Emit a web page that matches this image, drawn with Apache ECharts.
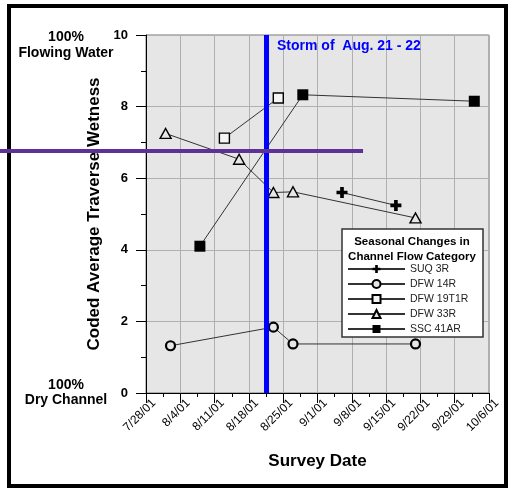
<!DOCTYPE html>
<html>
<head>
<meta charset="utf-8">
<script src="https://cdn.jsdelivr.net/npm/echarts@6/dist/echarts.min.js"></script>
<style>
  html, body { margin: 0; padding: 0; background: #fff; }
  #chart { width: 514px; height: 489px; }
</style>
</head>
<body>
<div id="chart"></div>
<script>
// Survey dates (day 0 = 7/28/01) and coded wetness values for each channel reach
const startDate = '2001-07-28';
const tickLabels = ['7/28/01', '8/4/01', '8/11/01', '8/18/01', '8/25/01', '9/1/01',
                    '9/8/01', '9/15/01', '9/22/01', '9/29/01', '10/6/01'];

const suq3rDates = ['2001-09-06', '2001-09-17'];
const suq3rValues = [5.6, 5.24];

const dfw14rDates = ['2001-08-02', '2001-08-23', '2001-08-27', '2001-09-21'];
const dfw14rValues = [1.32, 1.84, 1.37, 1.37];

const dfw19t1rDates = ['2001-08-13', '2001-08-24'];
const dfw19t1rValues = [7.12, 8.24];

const dfw33rDates = ['2001-08-01', '2001-08-16', '2001-08-23', '2001-08-27', '2001-09-21'];
const dfw33rValues = [7.25, 6.53, 5.6, 5.62, 4.89];

const ssc41arDates = ['2001-08-08', '2001-08-29', '2001-10-03'];
const ssc41arValues = [4.1, 8.33, 8.15];

// Storm of Aug. 21 - 22 (drawn midway through the storm)
const stormDay = '2001-08-21';
const stormOffset = 0.5;

const FONT = '"Liberation Sans", Arial, sans-serif';

function dayOf(iso) {
  const [y, m, d] = iso.split('-').map(Number);
  const [y0, m0, d0] = startDate.split('-').map(Number);
  return (Date.UTC(y, m - 1, d) - Date.UTC(y0, m0 - 1, d0)) / 86400000;
}
function pairs(dates, values) {
  return dates.map((d, i) => [dayOf(d), values[i]]);
}

const lineStyle = { color: '#333', width: 1 };
const plusPath = 'path://M-1,-3H1V-1H3V1H1V3H-1V1H-3V-1H-1Z';

const chart = echarts.init(document.getElementById('chart'));

chart.setOption({
  animation: false,
  textStyle: { fontFamily: FONT },
  grid: {
    left: 146, top: 35, right: 25, bottom: 96,
    show: true, backgroundColor: '#e6e6e6', borderColor: '#777', borderWidth: 1
  },
  xAxis: {
    type: 'value', min: 0, max: 70, interval: 7,
    name: 'Survey Date', nameLocation: 'middle', nameGap: 60,
    nameTextStyle: { fontSize: 17, fontWeight: 'bold', color: '#000', fontFamily: FONT },
    axisLine: { show: true, lineStyle: { color: '#000', width: 1 } },
    axisTick: { show: true, length: 10, lineStyle: { color: '#000' } },
    minorTick: { show: true, splitNumber: 2, length: 4, lineStyle: { color: '#000' } },
    splitLine: { show: true, lineStyle: { color: '#b0b0b0', width: 1 } },
    axisLabel: {
      rotate: 45, fontSize: 12, color: '#000', fontFamily: FONT, margin: 16,
      padding: [19, -11, 0, 0],
      formatter: v => tickLabels[Math.round(v / 7)] || ''
    }
  },
  yAxis: {
    type: 'value', min: 0, max: 10, interval: 2,
    name: 'Coded Average Traverse Wetness', nameLocation: 'middle', nameGap: 34,
    nameTextStyle: { fontSize: 17, fontWeight: 'bold', color: '#000', fontFamily: FONT },
    axisLine: { show: true, lineStyle: { color: '#000', width: 1 } },
    axisTick: { show: true, length: 10, lineStyle: { color: '#000' } },
    minorTick: { show: true, splitNumber: 2, length: 5, lineStyle: { color: '#000' } },
    splitLine: { show: true, lineStyle: { color: '#b0b0b0', width: 1 } },
    axisLabel: { fontSize: 13, fontWeight: 'bold', color: '#000', fontFamily: FONT, margin: 18 }
  },
  legend: {
    orient: 'vertical', left: 347, top: 263, z: 6, padding: 0,
    itemWidth: 57, itemHeight: 10, itemGap: 3,
    textStyle: { fontSize: 10.5, color: '#222', fontFamily: FONT, lineHeight: 12 },
    data: ['SUQ 3R', 'DFW 14R', 'DFW 19T1R', 'DFW 33R', 'SSC 41AR']
  },
  series: [
    {
      name: 'SUQ 3R', type: 'line', data: pairs(suq3rDates, suq3rValues),
      symbol: plusPath, symbolSize: 11,
      itemStyle: { color: '#000' }, lineStyle: lineStyle, z: 5
    },
    {
      name: 'DFW 14R', type: 'line', data: pairs(dfw14rDates, dfw14rValues),
      symbol: 'circle', symbolSize: 9,
      itemStyle: { color: '#e6e6e6', borderColor: '#000', borderWidth: 2.2 },
      lineStyle: lineStyle, z: 5
    },
    {
      name: 'DFW 19T1R', type: 'line', data: pairs(dfw19t1rDates, dfw19t1rValues),
      symbol: 'rect', symbolSize: 10,
      itemStyle: { color: '#f4f4f4', borderColor: '#000', borderWidth: 1.4 },
      lineStyle: lineStyle, z: 5
    },
    {
      name: 'DFW 33R', type: 'line', data: pairs(dfw33rDates, dfw33rValues),
      symbol: 'triangle', symbolSize: [11, 10],
      itemStyle: { color: '#e6e6e6', borderColor: '#000', borderWidth: 1.4 },
      lineStyle: lineStyle, z: 5
    },
    {
      name: 'SSC 41AR', type: 'line', data: pairs(ssc41arDates, ssc41arValues),
      symbol: 'rect', symbolSize: 11,
      itemStyle: { color: '#000' }, lineStyle: lineStyle, z: 5,
      markLine: {
        silent: true, symbol: 'none', z: 8,
        label: { show: false },
        lineStyle: { color: '#0000ff', width: 5, type: 'solid' },
        data: [{ xAxis: dayOf(stormDay) + stormOffset }]
      }
    }
  ]
});

// Annotations, legend box and outer frame
const purpleY = chart.convertToPixel({ yAxisIndex: 0 }, 6.76);
const purpleEnd = chart.convertToPixel({ xAxisIndex: 0 }, 44.3);

chart.setOption({
  graphic: [
    {
      type: 'rect', z: 1,
      shape: { x: 9, y: 6, width: 497, height: 480 },
      style: { fill: 'none', stroke: '#000', lineWidth: 4 }
    },
    {
      type: 'line', z: 20,
      shape: { x1: 0, y1: purpleY, x2: purpleEnd, y2: purpleY },
      style: { stroke: '#5f3197', lineWidth: 4 }
    },
    {
      type: 'text', left: 277, top: 39, z: 20,
      style: { text: 'Storm of  Aug. 21 - 22', fill: '#0000ff', font: 'bold 14px ' + FONT }
    },
    {
      type: 'text', z: 20, x: 66, y: 29,
      style: { text: '100%\nFlowing Water', fill: '#000', font: 'bold 14px ' + FONT,
               align: 'center', lineHeight: 16 }
    },
    {
      type: 'text', z: 20, x: 66, y: 378,
      style: { text: '100%\nDry Channel', fill: '#000', font: 'bold 14px ' + FONT,
               align: 'center', lineHeight: 15 }
    },
    {
      type: 'rect', z: 4,
      shape: { x: 342, y: 229, width: 141, height: 108 },
      style: { fill: '#fff', stroke: '#333', lineWidth: 1.5 }
    },
    {
      type: 'text', z: 6, x: 412, y: 234,
      style: { text: 'Seasonal Changes in\nChannel Flow Category', fill: '#000',
               font: 'bold 11.5px ' + FONT, align: 'center', lineHeight: 15 }
    }
  ]
});
</script>
</body>
</html>
